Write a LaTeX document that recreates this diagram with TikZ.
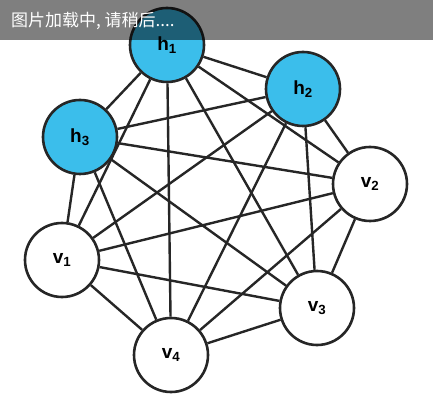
\documentclass[tikz,border=0pt]{standalone}
\usepackage{fontspec}
\setsansfont{Liberation Sans}
\newfontfamily\cjk{Noto Sans CJK SC}
\usetikzlibrary{backgrounds}
\definecolor{hblue}{RGB}{59,190,235}
\begin{document}
\begin{tikzpicture}[x=1pt,y=-1pt,
  unit/.style={circle,draw=black!85,line width=2.6pt,minimum size=74pt,inner sep=0pt,font=\sffamily\bfseries\fontsize{19}{19}\selectfont},
  hid/.style={unit,fill=hblue},
  vis/.style={unit,fill=white},
  edge/.style={draw=black!85,line width=2.4pt}]
\useasboundingbox (0,0) rectangle (433,411);
\node[hid] (h1) at (167,45) {h\textsubscript{1}};
\node[hid] (h2) at (303,89) {h\textsubscript{2}};
\node[hid] (h3) at (80,137) {h\textsubscript{3}};
\node[vis] (v2) at (370,184) {v\textsubscript{2}};
\node[vis] (v1) at (62,260) {v\textsubscript{1}};
\node[vis] (v3) at (317,308) {v\textsubscript{3}};
\node[vis] (v4) at (171,355) {v\textsubscript{4}};
\begin{pgfonlayer}{background}
\fill[white] (0,0) rectangle (433,411);
\foreach \a/\b in {h1/h2,h1/h3,h1/v2,h1/v1,h1/v3,h1/v4,
                   h2/h3,h2/v2,h2/v1,h2/v3,h2/v4,
                   h3/v2,h3/v1,h3/v3,h3/v4,
                   v2/v1,v2/v3,v2/v4,
                   v1/v3,v1/v4,
                   v3/v4}
  \draw[edge] (\a) -- (\b);
\end{pgfonlayer}
\fill[black,opacity=0.5] (0,0) rectangle (433,40);
\node[anchor=west,text=white,font=\cjk\fontsize{17}{17}\selectfont,inner sep=0pt] (banner) at (11,21) {图片加载中, 请稍后....};
\end{tikzpicture}
\end{document}
